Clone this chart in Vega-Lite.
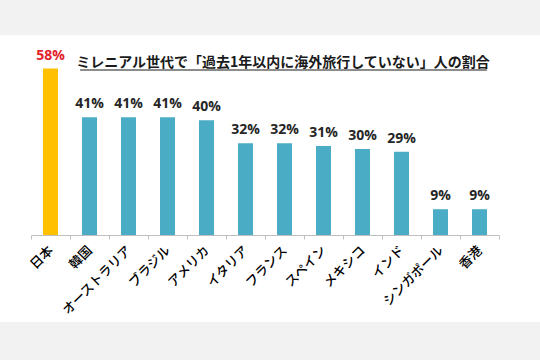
{
  "$schema": "https://vega.github.io/schema/vega-lite/v6.json",
  "width": 540,
  "height": 287,
  "autosize": {"type": "none"},
  "padding": {"top": 35, "bottom": 38, "left": 0, "right": 0},
  "background": "#f2f2f2",
  "config": {"view": {"fill": "white", "stroke": null}, "font": "Noto Sans CJK JP"},
  "title": {
    "text": "ミレニアル世代で「過去1年以内に海外旅行していない」人の割合",
    "orient": "top",
    "anchor": "middle",
    "frame": "group",
    "offset": 0,
    "dx": 13,
    "dy": 35,
    "fontSize": 14,
    "fontWeight": "bold",
    "color": "#1a1a1a",
    "font": "Noto Sans CJK JP"
  },
  "data": {
    "values": [
      {"country": "日本", "value": 0.58},
      {"country": "韓国", "value": 0.41},
      {"country": "オーストラリア", "value": 0.41},
      {"country": "ブラジル", "value": 0.41},
      {"country": "アメリカ", "value": 0.40},
      {"country": "イタリア", "value": 0.32},
      {"country": "フランス", "value": 0.32},
      {"country": "スペイン", "value": 0.31},
      {"country": "メキシコ", "value": 0.30},
      {"country": "インド", "value": 0.29},
      {"country": "シンガポール", "value": 0.09},
      {"country": "香港", "value": 0.09}
    ]
  },
  "layer": [
    {
      "mark": {"type": "bar", "width": 15},
      "encoding": {
        "x": {
          "field": "country",
          "type": "nominal",
          "sort": null,
          "scale": {"range": [31, 499], "paddingInner": 0, "paddingOuter": 0},
          "axis": {
            "title": null,
            "offset": -87,
            "labelAngle": -45,
            "labelAlign": "right",
            "labelBaseline": "middle",
            "labelFontSize": 13,
            "labelFontWeight": 500,
            "labelColor": "#000000",
            "labelFont": "Noto Sans CJK JP",
            "labelPadding": 9,
            "labelDx": 3,
            "labelOverlap": false,
            "labelBound": false,
            "labelFlush": false,
            "domainColor": "#bfbfbf",
            "tickColor": "#bfbfbf",
            "tickSize": 4,
            "tickBand": "extent"
          }
        },
        "y": {
          "field": "value",
          "type": "quantitative",
          "scale": {"domain": [-0.303, 0.697], "nice": false, "zero": false},
          "axis": null
        },
        "color": {
          "condition": {"test": "datum.country === '日本'", "value": "#FFC000"},
          "value": "#4BACC6"
        }
      }
    },
    {
      "mark": {"type": "text", "baseline": "bottom", "dy": -6, "fontSize": 14, "fontWeight": "bold", "font": "Open Sans"},
      "encoding": {
        "x": {"field": "country", "type": "nominal", "sort": null},
        "y": {"field": "value", "type": "quantitative"},
        "text": {"field": "value", "type": "quantitative", "format": ".0%"},
        "color": {
          "condition": {"test": "datum.country === '日本'", "value": "#E3222B"},
          "value": "#262626"
        }
      }
    },
    {
      "data": {"values": [{"y": 0.575}]},
      "mark": {"type": "rule", "color": "#1a1a1a", "strokeWidth": 1},
      "encoding": {
        "x": {"datum": "韓国", "bandPosition": 0.26},
        "x2": {"datum": "香港", "bandPosition": 0.69},
        "y": {"field": "y", "type": "quantitative"}
      }
    }
  ]
}
